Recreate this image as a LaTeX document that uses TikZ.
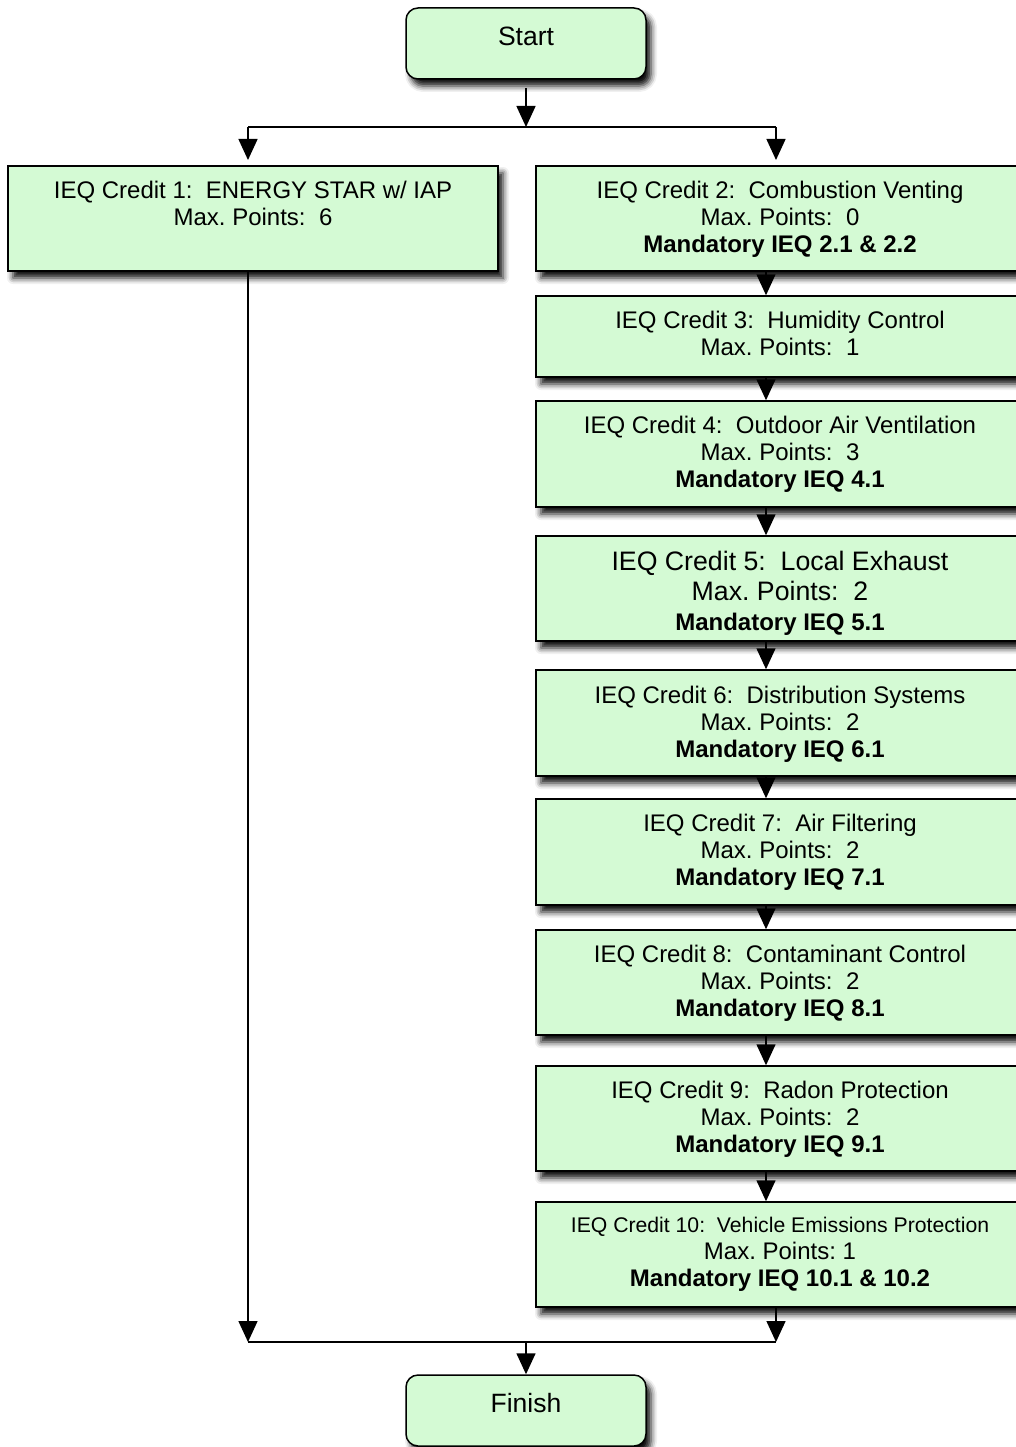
\documentclass[tikz,border=0pt]{standalone}
\usepackage{fontspec}
\setmainfont{Liberation Sans}
\frenchspacing
\usetikzlibrary{arrows.meta,shadows.blur}
\definecolor{boxfill}{RGB}{212,250,212}
\tikzset{
  base/.style={draw=black, line width=1.5pt, fill=boxfill,
    blur shadow={shadow xshift=5pt, shadow yshift=-7pt, shadow blur radius=6pt, shadow opacity=95},
    inner sep=0pt},
  terminal/.style={base, rounded corners=12pt, minimum width=240pt, minimum height=71pt},
  credit/.style={base, minimum width=488pt, minimum height=105pt},
  shortcredit/.style={credit, minimum height=81pt},
  txt/.style={align=center, inner sep=0pt, font=\fontsize{24}{27}\selectfont},
  bigtxt/.style={txt, font=\fontsize{26.7}{30}\selectfont},
  termtext/.style={font=\fontsize{26.5}{30}\selectfont, inner sep=0pt},
  flow/.style={line width=1.5pt, -{Triangle[width=19pt,length=21pt]}},
  link/.style={line width=1.5pt},
}
\begin{document}
\begin{tikzpicture}[x=1pt,y=-1pt]
\useasboundingbox (0,0) rectangle (1016,1447);
\clip (0,0) rectangle (1016,1447);

% terminals
\node[terminal] (start) at (526,43.5) {};
\node[termtext] (starttxt) at (526,36) {Start};
\node[terminal] (fin) at (526,1410.5) {};
\node[termtext] (fintxt) at (526,1403) {Finish};

% credit boxes
\node[credit, minimum width=490pt] (c1) at (253,218.5) {};
\node[credit] (c2) at (780,218.5) {};
\node[shortcredit] (c3) at (780,336.5) {};
\node[credit, minimum height=106pt] (c4) at (780,454) {};
\node[credit] (c5) at (780,588.5) {};
\node[credit, minimum height=106pt] (c6) at (780,723) {};
\node[credit, minimum height=106pt] (c7) at (780,852) {};
\node[credit] (c8) at (780,982.5) {};
\node[credit] (c9) at (780,1118.5) {};
\node[credit] (c10) at (780,1254.5) {};

% credit texts
\node[txt] (c1t) at (253,203.5) {IEQ Credit 1:\ \ ENERGY STAR w/ IAP\\Max. Points:\ \ 6};
\node[txt] (c2t) at (780,219.5)
  {IEQ Credit 2:\ \ Combustion Venting\\Max. Points:\ \ 0\\\textbf{Mandatory IEQ 2.1 \& 2.2}};
\node[txt] (c3t) at (780,333.5)
  {IEQ Credit 3:\ \ Humidity Control\\Max. Points:\ \ 1};
\node[txt] (c4t) at (780,454.5)
  {IEQ Credit 4:\ \ Outdoor Air Ventilation\\Max. Points:\ \ 3\\\textbf{Mandatory IEQ 4.1}};
\node[bigtxt] (c5t) at (780,593.5)
  {IEQ Credit 5:\ \ Local Exhaust\\Max. Points:\ \ 2\\{\fontsize{24}{27}\selectfont\textbf{Mandatory IEQ 5.1}}};
\node[txt] (c6t) at (780,724)
  {IEQ Credit 6:\ \ Distribution Systems\\Max. Points:\ \ 2\\\textbf{Mandatory IEQ 6.1}};
\node[txt] (c7t) at (780,852.5)
  {IEQ Credit 7:\ \ Air Filtering\\Max. Points:\ \ 2\\\textbf{Mandatory IEQ 7.1}};
\node[txt] (c8t) at (780,983)
  {IEQ Credit 8:\ \ Contaminant Control\\Max. Points:\ \ 2\\\textbf{Mandatory IEQ 8.1}};
\node[txt] (c9t) at (780,1119.5)
  {IEQ Credit 9:\ \ Radon Protection\\Max. Points:\ \ 2\\\textbf{Mandatory IEQ 9.1}};
\node[txt] (c10t) at (780,1254.5)
  {{\fontsize{21.2}{27}\selectfont IEQ Credit 10:\ \ Vehicle Emissions Protection}\\Max. Points: 1\\\textbf{Mandatory IEQ 10.1 \& 10.2}};

% junction points
\coordinate (s0) at (526,88);
\coordinate (split) at (526,127);
\coordinate (tl) at (248,127);
\coordinate (tr) at (776,127);
\coordinate (tlend) at (248,160);
\coordinate (trend) at (776,160);
\coordinate (cx) at (766,0);
\coordinate (bl) at (248,1342);
\coordinate (br) at (776,1342);
\coordinate (join) at (526,1342);

% fan-out from Start
\draw[flow] (s0) -- (split);
\draw[link] (tl) -- (tr);
\draw[flow] (tl) -- (tlend);
\draw[flow] (tr) -- (trend);

% chain of credits
\draw[flow] (c2.south -| cx) -- (c3.north -| cx);
\draw[flow] (c3.south -| cx) -- (c4.north -| cx);
\draw[flow] (c4.south -| cx) -- (c5.north -| cx);
\draw[flow] (c5.south -| cx) -- (c6.north -| cx);
\draw[flow] (c6.south -| cx) -- (c7.north -| cx);
\draw[flow] (c7.south -| cx) -- (c8.north -| cx);
\draw[flow] (c8.south -| cx) -- (c9.north -| cx);
\draw[flow] (c9.south -| cx) -- (c10.north -| cx);

% merge into Finish
\draw[flow] (c1.south -| bl) -- (bl);
\draw[flow] (c10.south -| br) -- (br);
\draw[link] (bl) -- (br);
\draw[flow] (join) -- (fin.north);
\end{tikzpicture}
\end{document}
